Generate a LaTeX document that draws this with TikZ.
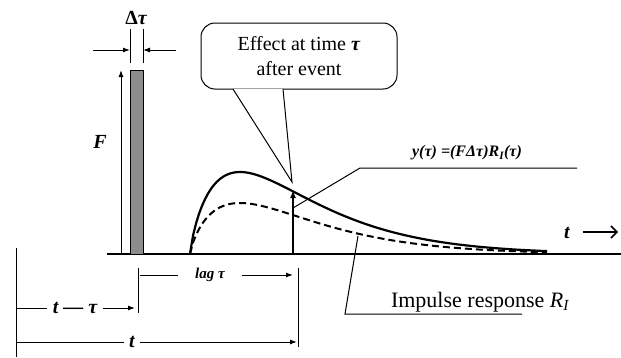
\documentclass[tikz,border=0pt]{standalone}
\usepackage{fontspec}
\setmainfont{Liberation Serif}
\usetikzlibrary{arrows.meta,calc}

\tikzset{
  dimarrow/.style={line width=1pt,-{Latex[length=7pt,width=5pt]}},
  lbl/.style={inner sep=0pt,font=\fontsize{20}{22}\selectfont\bfseries\itshape},
  txt/.style={inner sep=0pt,font=\fontsize{20}{25}\selectfont,align=center},
}

\begin{document}
\begin{tikzpicture}[x=1pt,y=-1pt,line width=1pt]
  \useasboundingbox (0,0) rectangle (621,357);
  % time axis
  \coordinate (o) at (107,254);
  \coordinate (e) at (621,254);
  \draw[line width=1.2pt] (o) -- (e);
  % pulse of height F and width dtau
  \draw[fill=black!45] (130,254) rectangle (143,70);
  \node[lbl] (dtau) at (136,18) {{\upshape Δ}τ};
  \coordinate (wl0) at (130,29); \coordinate (wl1) at (130,63);
  \coordinate (wr0) at (143,29); \coordinate (wr1) at (143,63);
  \draw (wl0) -- (wl1);
  \draw (wr0) -- (wr1);
  \coordinate (al) at (93,50);  \coordinate (bl) at (130,50);
  \coordinate (ar) at (176,50); \coordinate (br) at (143,50);
  \draw[dimarrow] (al) -- (bl);
  \draw[dimarrow] (ar) -- (br);
  \coordinate (f0) at (121,254); \coordinate (f1) at (121,70);
  \draw[dimarrow] (f0) -- (f1);
  \node[lbl] (F) at (100,142) {F};
  % response curves: u^0.8 exp(-u/62.5), u = t - 190
  \draw[line width=2.2pt] plot[domain=0.01:357,samples=120]
    ({190+\x},{254-82*(\x/50)^0.8*exp(-(\x-50)/62.5)});
  \draw[line width=2pt,dash pattern=on 7pt off 4pt] plot[domain=0.01:357,samples=120]
    ({190+\x},{254-51*(\x/50)^0.8*exp(-(\x-50)/62.5)});
  % effect at time tau
  \coordinate (y0) at (293,254);
  \coordinate (y1) at (293,190);
  \draw[line width=2.5pt,-{Latex[length=8pt,width=6pt]}] (y0) -- (y1);
  \node[txt,draw,line width=1pt,rounded corners=14pt,
        minimum width=196pt,minimum height=66pt,fill=white] (effect) at (299,56)
        {Effect at time \textbf{\textit{τ}}\\after event};
  \coordinate (tip) at (292,182);
  \filldraw[fill=white] ($(effect.south)+(-66,-0.5)$) -- (tip) -- ($(effect.south)+(-16,-0.5)$);
  % formula with leader
  \node[lbl,font=\fontsize{16}{18}\selectfont\bfseries\itshape] (yform) at (467,153)
    {y(τ) =(FΔτ)R\textsubscript{I}(τ)};
  \coordinate (ya) at (293,208);
  \coordinate (yb) at (360,168);
  \coordinate (yc) at (577,168);
  \draw (ya) -- (yb) -- (yc);
  % impulse response label with leader
  \node[txt,font=\fontsize{22}{25}\selectfont] (imp) at (480,302) {Impulse response \textit{R\textsubscript{I}}};
  \coordinate (ia) at (358,236);
  \coordinate (ib) at (345,314);
  \coordinate (ic) at (522,314);
  \draw (ia) -- (ib) -- (ic);
  % t arrow
  \node[lbl] (tax) at (567,233) {t};
  \coordinate (ta0) at (583,232); \coordinate (ta1) at (618,232);
  \draw[line width=1.5pt,-{Straight Barb[length=6pt,width=12pt]}] (ta0) -- (ta1);
  % dimension lines below the axis
  \coordinate (v0a) at (16,248);  \coordinate (v0b) at (16,357);
  \coordinate (v1a) at (138,268); \coordinate (v1b) at (138,313);
  \coordinate (v2a) at (298,268); \coordinate (v2b) at (298,347);
  \draw (v0a) -- (v0b);
  \draw (v1a) -- (v1b);
  \draw (v2a) -- (v2b);
  \node[lbl,font=\fontsize{15}{18}\selectfont\bfseries\itshape,inner xsep=17pt] (lag) at (210,275) {lag τ};
  \coordinate (lagl) at (140,275); \coordinate (lagr) at (293,275);
  \draw (lag.west) -- (lagl);
  \draw[dimarrow] (lag.east) -- (lagr);
  \node[lbl,inner xsep=5pt] (tmt) at (75,308) {t — τ};
  \coordinate (tmtl) at (16,308); \coordinate (tmtr) at (135,308);
  \draw (tmt.west) -- (tmtl);
  \draw[dimarrow] (tmt.east) -- (tmtr);
  \node[lbl,inner xsep=5pt] (tt) at (132,342) {t};
  \coordinate (ttl) at (16,342); \coordinate (ttr) at (297,342);
  \draw (tt.west) -- (ttl);
  \draw[dimarrow] (tt.east) -- (ttr);
\end{tikzpicture}
\end{document}
